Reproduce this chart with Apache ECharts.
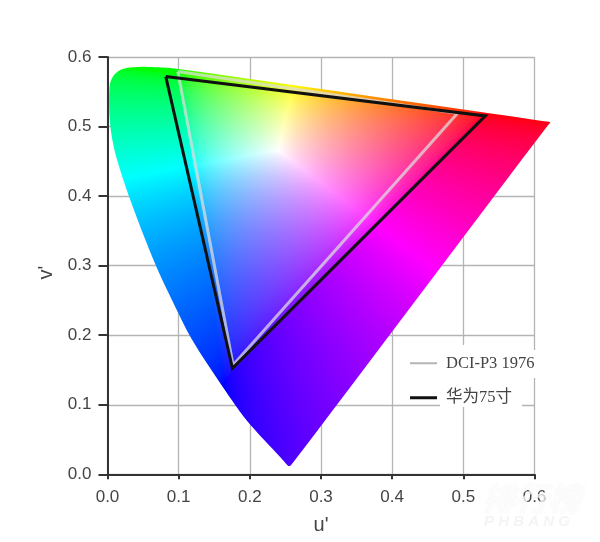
<!DOCTYPE html>
<html><head><meta charset="utf-8">
<style>html,body{margin:0;padding:0;background:#fff}#c{width:600px;height:542px}</style>
<script src="https://cdn.jsdelivr.net/npm/echarts@6/dist/echarts.min.js"></script>
</head><body><div id="c"></div>
<script>
const xTicks = [0, 0.1, 0.2, 0.3, 0.4, 0.5, 0.6];
const yTicks = [0, 0.1, 0.2, 0.3, 0.4, 0.5, 0.6];
// gamut outline
const locusU = [.6235,.6170,.0972,.0703,.0457,.0218,.0105,.0035,.0021,.0025,.0081,.0176,.0316,.0667,.0995,.1159,.1394,.1791,.2002,.2466,.2530,.2555,.2590,.6190];
const locusV = [.5062,.5073,.5839,.5852,.5862,.5839,.5767,.5647,.5484,.5096,.4712,.4376,.3945,.3010,.2316,.1979,.1596,.0997,.0709,.0206,.0125,.0115,.0135,.5030];
// wavelength annotations
const waveNames = ['420','430','440','450','460','470','480','490','500','510','520','530','540','550','560','570','580','590','600','610','620','630','640','680'];
const waveU = [.2379,.2234,.2102,.1863,.1592,.1142,.0468,.0022,-.0225,-.0225,.0126,.0478,.0805,.1152,.1554,.2070,.2641,.3344,.4065,.4721,.5231,.5578,.5863,.6238];
const waveV = [-.0072,.0072,.0163,.0330,.0676,.1367,.2550,.3985,.5105,.5718,.6092,.6116,.6141,.6116,.6044,.5949,.5891,.5790,.5657,.5557,.5480,.5427,.5374,.5287];
// gamut triangles
const p3Name = 'DCI-P3 1976';
const p3U = [.0988,.4918,.1765,.0988];
const p3V = [.5790,.5192,.1572,.5790];
const hwName = '华为75寸';
const hwU = [.0819,.5310,.1756,.0819];
const hwV = [.5718,.5153,.1525,.5718];
// anchor chromaticities of the colour field (u', v') as seen in the picture
const fieldR = [.53,.52], fieldG = [.10,.575], fieldB = [.165,.135], fieldW = [.24,.466];

const SANS = '"Liberation Sans", Arial, sans-serif';
const SERIF = '"Liberation Serif", "Noto Sans CJK SC", serif';

function uv2xyz(p){const d=6*p[0]-16*p[1]+12,x=9*p[0]/d,y=4*p[1]/d;return [x/y,1,(1-x-y)/y];}
function inv3(m){
  const [a,b,c]=m[0],[d,e,f]=m[1],[g,h,i]=m[2];
  const A=e*i-f*h,B=f*g-d*i,C=d*h-e*g,D=a*A+b*B+c*C;
  return [[A/D,(c*h-b*i)/D,(b*f-c*e)/D],[B/D,(a*i-c*g)/D,(c*d-a*f)/D],[C/D,(b*g-a*h)/D,(a*e-b*d)/D]];
}
const pr=uv2xyz(fieldR),pg=uv2xyz(fieldG),pb=uv2xyz(fieldB),pw=uv2xyz(fieldW);
const P=[[pr[0],pg[0],pb[0]],[pr[1],pg[1],pb[1]],[pr[2],pg[2],pb[2]]];
const Pi=inv3(P);
const S=[0,1,2].map(k=>Pi[k][0]*pw[0]+Pi[k][1]*pw[1]+Pi[k][2]*pw[2]);
const MI=inv3(P.map(row=>row.map((c,k)=>c*S[k])));
function chroma(u,v){
  const q=uv2xyz([u,Math.max(v,1e-3)]);
  let c=[0,1,2].map(k=>Math.max(MI[k][0]*q[0]+MI[k][1]*q[1]+MI[k][2]*q[2],0));
  const m=Math.max(c[0],c[1],c[2])||1;
  return c.map(t=>255*Math.pow(t/m,1/1.9));
}
const U0=-0.01,U1=0.64,V0=-0.01,V1=0.62;
function buildField(w,h){
  const cv=document.createElement('canvas');cv.width=w;cv.height=h;
  const ctx=cv.getContext('2d');const im=ctx.createImageData(w,h);
  for(let j=0;j<h;j++)for(let i=0;i<w;i++){
    const u=U0+(U1-U0)*(i+.5)/w, v=V1-(V1-V0)*(j+.5)/h;
    const c=chroma(u,v),k=4*(j*w+i);
    im.data[k]=c[0];im.data[k+1]=c[1];im.data[k+2]=c[2];im.data[k+3]=255;
  }
  ctx.putImageData(im,0,0);return cv;
}
const field=buildField(466,440);
function rounded(pts,n){
  let p=pts;
  for(let t=0;t<n;t++){
    const o=[];
    p.forEach((a,i)=>{const b=p[(i+1)%p.length];
      o.push([.75*a[0]+.25*b[0],.75*a[1]+.25*b[1]],[.25*a[0]+.75*b[0],.25*a[1]+.75*b[1]]);});
    p=o;
  }
  return p;
}

const chart=echarts.init(document.getElementById('c'),null,{renderer:'canvas'});
const axisCommon={
  type:'value',min:0,max:0.6,interval:0.1,
  axisLine:{show:true,onZero:false,lineStyle:{color:'#333',width:2}},
  splitLine:{show:true,lineStyle:{color:'#b4b4b4',width:1.3}},
  axisLabel:{fontFamily:SANS,fontSize:17,color:'#444',formatter:v=>v.toFixed(1),showMaxLabel:true,showMinLabel:true},
  nameLocation:'middle'
};
chart.setOption({
  animation:false,
  backgroundColor:'#fff',
  grid:{left:107.5,top:57,width:427,height:417.3},
  xAxis:Object.assign({},axisCommon,{name:"u'",nameGap:41,nameTextStyle:{fontFamily:SANS,fontSize:20,color:'#444'},
    axisTick:{show:true,length:5,lineStyle:{color:'#333',width:2}},
    axisLabel:Object.assign({},axisCommon.axisLabel,{margin:15})}),
  yAxis:Object.assign({},axisCommon,{name:"v'",nameGap:50,nameTextStyle:{fontFamily:SANS,fontSize:20,color:'#444',padding:[0,14,0,0]},
    axisTick:{show:true,length:9,lineStyle:{color:'#333',width:2}},
    axisLabel:Object.assign({},axisCommon.axisLabel,{margin:16})}),
  legend:{
    orient:'vertical',left:405,top:350,padding:[5,5],itemWidth:27,itemHeight:14,itemGap:18,
    textStyle:{fontFamily:SERIF,fontSize:16.5,color:'#444',padding:[0,0,0,4]},
    data:[{name:p3Name,icon:'path://M0 6H27V8H0Z',itemStyle:{color:'#b5b5b5'}},{name:hwName,icon:'path://M0 5.5H27V8.5H0Z',itemStyle:{color:'#111'}}]
  },
  graphic:[
    {type:'rect',z:1,silent:true,shape:{x:440,y:345,width:82,height:62},style:{fill:'#fff'}},
    {type:'rect',z:1,silent:true,shape:{x:522,y:350,width:16,height:28},style:{fill:'#fff'}},
    {type:'text',z:100,silent:true,x:482,y:482,style:{text:'排行榜',fontFamily:'"Noto Sans CJK SC"',fontSize:33,fontWeight:'bold',fontStyle:'italic',fill:'rgba(255,255,255,0.75)',textShadowColor:'rgba(0,0,0,0.08)',textShadowBlur:2}},
    {type:'text',z:100,silent:true,x:484,y:514,style:{text:'P H B A N G',fontFamily:SANS,fontSize:15,fontWeight:'bold',fontStyle:'italic',fill:'#f4f4f4'}}
  ],
  series:[
    {type:'custom',name:'gamut',coordinateSystem:'cartesian2d',z:2,silent:true,clip:false,
     data:[[0,0]],
     renderItem:function(params,api){
       const a=api.coord([U0,V1]),b=api.coord([U1,V0]);
       const pts=rounded(locusU.map((u,i)=>api.coord([u,locusV[i]])),3);
       return {type:'image',
         style:{image:field,x:a[0],y:a[1],width:b[0]-a[0],height:b[1]-a[1]},
         clipPath:{type:'polygon',shape:{points:pts}}};
     }},
    {type:'line',name:p3Name,z:3,symbol:'none',clip:false,
     lineStyle:{color:'#dcdcdc',width:3,opacity:.75},itemStyle:{color:'#b5b5b5'},
     data:p3U.map((u,i)=>[u,p3V[i]])},
    {type:'line',name:hwName,z:4,symbol:'none',clip:false,
     lineStyle:{color:'#111',width:3,join:'miter'},itemStyle:{color:'#111'},
     data:hwU.map((u,i)=>[u,hwV[i]])},
    {type:'scatter',name:'wavelengths',z:5,clip:false,silent:true,symbolSize:1,
     itemStyle:{opacity:0},
     label:{show:true,position:'inside',formatter:'{b}',fontFamily:SANS,fontSize:6.5,color:'#666'},
     data:waveNames.map((n,i)=>({name:n,value:[waveU[i],waveV[i]]}))}
  ]
});
</script></body></html>
